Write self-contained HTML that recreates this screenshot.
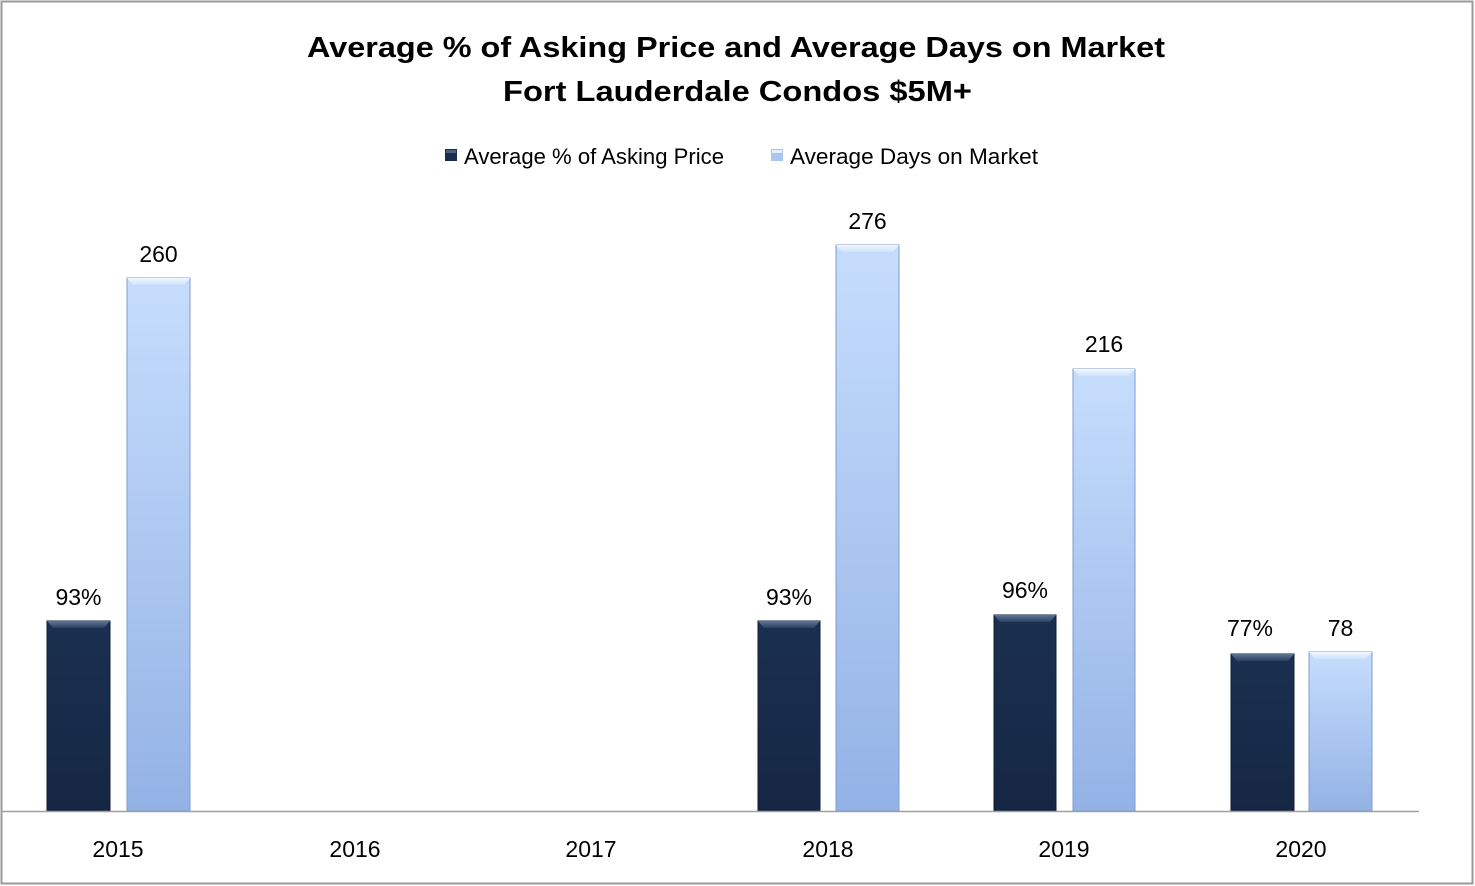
<!DOCTYPE html>
<html>
<head>
<meta charset="utf-8">
<style>
html,body{margin:0;padding:0;background:#fff;}
svg{display:block;}
text{font-family:"Liberation Sans",Arial,sans-serif;fill:#000;}
</style>
</head>
<body>
<svg width="1475" height="886" viewBox="0 0 1475 886" xmlns="http://www.w3.org/2000/svg">
<defs>
  <linearGradient id="dk" x1="0" y1="0" x2="0" y2="1">
    <stop offset="0" stop-color="#1b2f50"/>
    <stop offset="1" stop-color="#152744"/>
  </linearGradient>
  <linearGradient id="lt" x1="0" y1="0" x2="0" y2="1">
    <stop offset="0" stop-color="#c6ddfd"/>
    <stop offset="1" stop-color="#93b2e5"/>
  </linearGradient>
  <linearGradient id="dkTop" x1="0" y1="0" x2="0" y2="1">
    <stop offset="0" stop-color="#5f7696"/>
    <stop offset="1" stop-color="#2a4062"/>
  </linearGradient>
  <linearGradient id="ltTop" x1="0" y1="0" x2="0" y2="1">
    <stop offset="0" stop-color="#f2f8ff"/>
    <stop offset="1" stop-color="#cfe2fd"/>
  </linearGradient>
</defs>

<rect x="0" y="0" width="1475" height="886" fill="#fff"/>
<rect x="1.5" y="1.5" width="1471" height="882" fill="none" stroke="#9a9a9a" stroke-width="2"/>

<!-- Title -->
<text x="307" y="57" font-size="29" font-weight="bold" textLength="858" lengthAdjust="spacingAndGlyphs">Average % of Asking Price and Average Days on Market</text>
<text x="503" y="101" font-size="29" font-weight="bold" textLength="469" lengthAdjust="spacingAndGlyphs">Fort Lauderdale Condos $5M+</text>

<!-- Legend -->
<rect x="445" y="149" width="12" height="12" fill="#1a2d4c"/>
<rect x="446" y="150" width="10" height="3" fill="#4a6282"/>
<text x="464" y="164" font-size="22" textLength="260" lengthAdjust="spacingAndGlyphs">Average % of Asking Price</text>
<rect x="771" y="149" width="12" height="12" fill="#a9c5f0"/>
<rect x="772" y="150" width="10" height="3" fill="#e4efff"/>
<text x="790" y="164" font-size="22" textLength="248" lengthAdjust="spacingAndGlyphs">Average Days on Market</text>

<!-- Bars -->
<g id="bars">
  <!-- 2015 -->
  <rect x="47" y="621" width="63" height="190" fill="url(#dk)" stroke="#0f1d33" stroke-width="1"/>
  <polygon points="47,621 110,621 104,628 53,628" fill="url(#dkTop)"/>
  <rect x="127" y="278" width="63" height="533" fill="url(#lt)" stroke="#7f9ccc" stroke-width="1"/>
  <polygon points="127,278 190,278 184,285 133,285" fill="url(#ltTop)"/>

  <!-- 2018 -->
  <rect x="758" y="621" width="62" height="190" fill="url(#dk)" stroke="#0f1d33" stroke-width="1"/>
  <polygon points="758,621 820,621 814,628 764,628" fill="url(#dkTop)"/>
  <rect x="836" y="245" width="63" height="566" fill="url(#lt)" stroke="#7f9ccc" stroke-width="1"/>
  <polygon points="836,245 899,245 893,252 842,252" fill="url(#ltTop)"/>

  <!-- 2019 -->
  <rect x="994" y="615" width="62" height="196" fill="url(#dk)" stroke="#0f1d33" stroke-width="1"/>
  <polygon points="994,615 1056,615 1050,622 1000,622" fill="url(#dkTop)"/>
  <rect x="1073" y="369" width="62" height="442" fill="url(#lt)" stroke="#7f9ccc" stroke-width="1"/>
  <polygon points="1073,369 1135,369 1129,376 1079,376" fill="url(#ltTop)"/>

  <!-- 2020 -->
  <rect x="1231" y="654" width="63" height="157" fill="url(#dk)" stroke="#0f1d33" stroke-width="1"/>
  <polygon points="1231,654 1294,654 1288,661 1237,661" fill="url(#dkTop)"/>
  <rect x="1309" y="652" width="63" height="159" fill="url(#lt)" stroke="#7f9ccc" stroke-width="1"/>
  <polygon points="1309,652 1372,652 1366,659 1315,659" fill="url(#ltTop)"/>
</g>

<!-- Axis line -->
<line x1="2" y1="811.5" x2="1419" y2="811.5" stroke="#a0a0a0" stroke-width="1.5"/>

<!-- Data labels -->
<g font-size="23" text-anchor="middle">
  <text x="78.5" y="605">93%</text>
  <text x="158.5" y="262">260</text>
  <text x="789" y="605">93%</text>
  <text x="867.5" y="229">276</text>
  <text x="1025" y="598">96%</text>
  <text x="1104" y="352">216</text>
  <text x="1250" y="636">77%</text>
  <text x="1340.5" y="636">78</text>
</g>

<!-- Category labels -->
<g font-size="23" text-anchor="middle">
  <text x="118" y="857">2015</text>
  <text x="355" y="857">2016</text>
  <text x="591" y="857">2017</text>
  <text x="828" y="857">2018</text>
  <text x="1064" y="857">2019</text>
  <text x="1301" y="857">2020</text>
</g>
</svg>
</body>
</html>
